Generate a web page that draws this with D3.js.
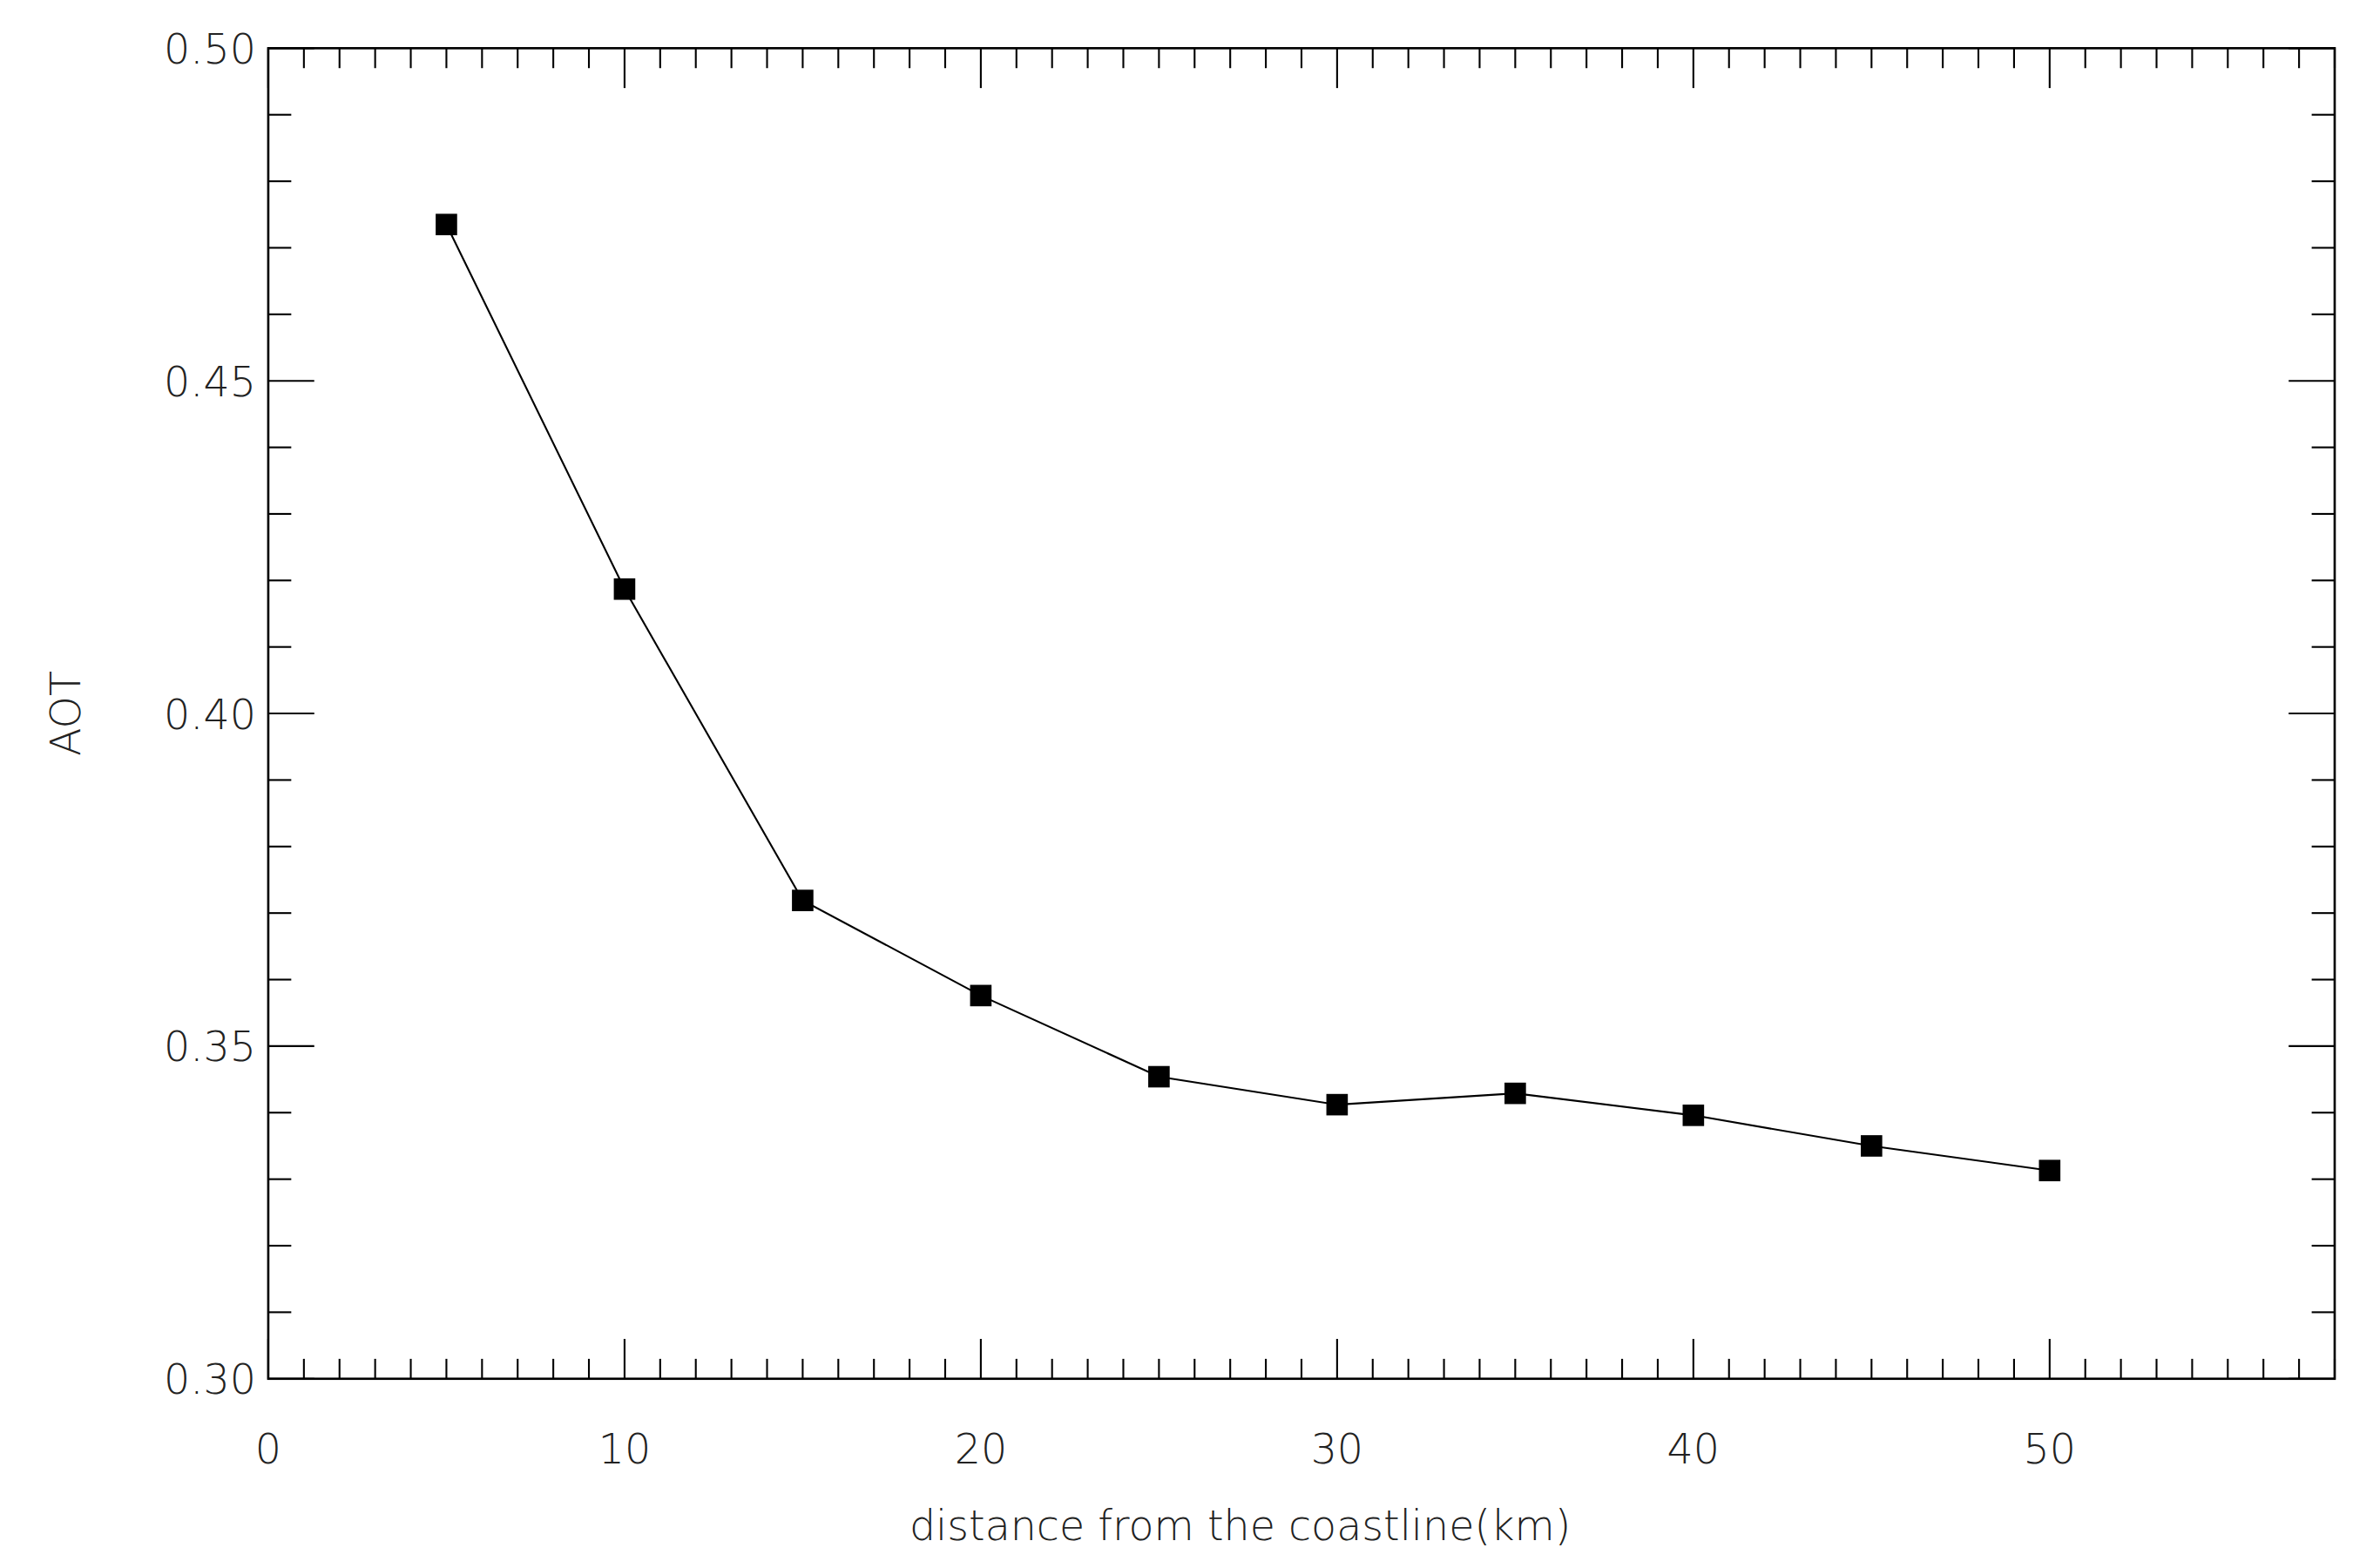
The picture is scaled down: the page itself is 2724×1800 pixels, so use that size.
<!DOCTYPE html><html><head><meta charset="utf-8">
<script src="https://cdn.jsdelivr.net/npm/d3@7"></script>
<style>body{margin:0;background:#fff}text{font-family:"DejaVu Sans";font-weight:200;fill:#222}</style></head><body>
<svg id="c" width="2724" height="1800" viewBox="0 0 1548 1020"></svg>
<script>
const distance=[5,10,15,20,25,30,35,40,45,50];
const aot=[0.4735,0.4187,0.3719,0.3576,0.3454,0.3412,0.3429,0.3396,0.3350,0.3313];
const xTicks=[0,10,20,30,40,50];
const yTicks=[0.30,0.35,0.40,0.45,0.50];
const L=175,R=1523,T=30,B=898;
const svg=d3.select("#c");
const x=d3.scaleLinear().domain([0,58]).range([L,R]);
const y=d3.scaleLinear().domain([0.30,0.50]).range([B,T]);
svg.append("rect").attr("x",L).attr("y",T).attr("width",R-L).attr("height",B-T).attr("fill","none").attr("stroke","#000").attr("stroke-width",1.5);
const g=svg.append("g").attr("stroke","#000").attr("stroke-width",1.2);
d3.range(0,59,1).forEach(v=>{const len=v%10===0?26:13;
 g.append("line").attr("x1",x(v)).attr("x2",x(v)).attr("y1",B).attr("y2",B-len);
 g.append("line").attr("x1",x(v)).attr("x2",x(v)).attr("y1",T).attr("y2",T+len);});
d3.range(0,21,1).forEach(i=>{const v=0.30+i*0.01;const len=i%5===0?30:15;
 g.append("line").attr("y1",y(v)).attr("y2",y(v)).attr("x1",L).attr("x2",L+len);
 g.append("line").attr("y1",y(v)).attr("y2",y(v)).attr("x1",R).attr("x2",R-len);});
xTicks.forEach(v=>svg.append("text").attr("x",x(v)).attr("y",B+55).attr("text-anchor","middle").attr("font-size",27).text(v));
yTicks.forEach(v=>svg.append("text").attr("x",L-8).attr("y",y(v)+10).attr("text-anchor","end").attr("font-size",27).text(v.toFixed(2)));
svg.append("text").attr("x",(L+R)/2-40).attr("y",1003).attr("text-anchor","middle").attr("font-size",27).text("distance from the coastline(km)");
svg.append("text").attr("transform",`translate(52,${(T+B)/2}) rotate(-90)`).attr("text-anchor","middle").attr("font-size",27).text("AOT");
const pts=distance.map((d,i)=>[d,aot[i]]);
svg.append("path").datum(pts).attr("d",d3.line().x(d=>x(d[0])).y(d=>y(d[1]))).attr("fill","none").attr("stroke","#000").attr("stroke-width",1.2);
svg.selectAll(".m").data(pts).enter().append("rect").attr("x",d=>x(d[0])-7).attr("y",d=>y(d[1])-7).attr("width",14).attr("height",14).attr("fill","#000");
</script></body></html>
